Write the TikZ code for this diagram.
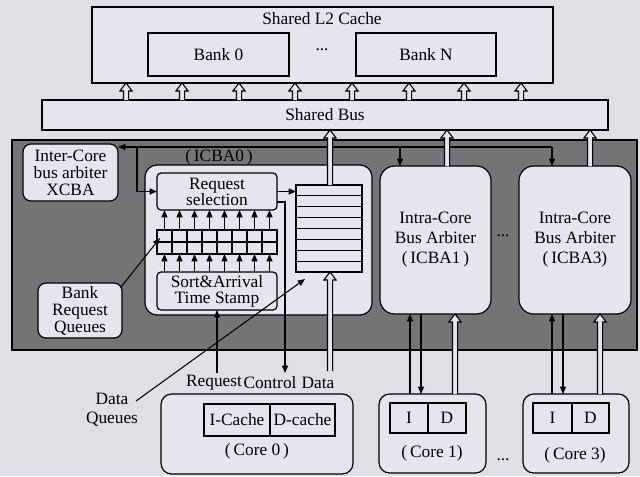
\documentclass[tikz,border=0pt]{standalone}
\usepackage{fontspec}
\setmainfont{Liberation Serif}
\usetikzlibrary{arrows.meta,calc}
\definecolor{bg}{HTML}{DFDFE6}
\definecolor{panel}{HTML}{747476}
\definecolor{boxf}{HTML}{E5E5ED}
\newcommand\hollowup[3]{\draw[harrow] let \p0=(#1,0), \p1=#2, \p2=#3 in
 (\x0-1.9pt,\y1) -- (\x0-1.9pt,\y2-6pt) -- (\x0-4.6pt,\y2-6pt) -- (\x0,\y2) -- (\x0+4.6pt,\y2-6pt) -- (\x0+1.9pt,\y2-6pt) -- (\x0+1.9pt,\y1);}
\begin{document}
\begin{tikzpicture}[x=0.75pt,y=-0.75pt,
  font=\fontsize{13}{13}\selectfont,
  bx/.style 2 args={minimum width=#1*0.75pt, minimum height=#2*0.75pt},
  box/.style={draw, fill=boxf, line width=0.9pt, inner sep=0pt, outer sep=0pt, align=center},
  rbox/.style={box, rounded corners=6pt},
  ln/.style={line width=0.8pt},
  tip/.style={ln, -{Triangle[length=5.5pt,width=4.5pt]}},
  harrow/.style={draw, fill=boxf, line width=0.8pt},
  txt/.style={inner sep=0pt, align=center},
]
\path[use as bounding box, fill=bg] (0,0) rectangle (640,476);

% L2 cache
\node[box, bx={461}{76}] (l2) at (322.5,45) {};
\node[txt] (l2t) at (322,19) {Shared L2 Cache};
\node[box, bx={141}{43}] (bank0) at (218.5,54.5) {Bank 0};
\node[txt] (dots1) at (322,50) {...};
\node[box, bx={140}{43}] (bankN) at (426,54.5) {Bank N};

% shared bus
\node[box, bx={566}{30}] (bus) at (325,115) {Shared Bus};
\foreach \xx in {126,182,239,295,352,409,464,521}
  \hollowup{\xx}{(bus.north)}{(l2.south)};

% dark panel
\node[draw, fill=panel, line width=0.9pt, inner sep=0pt, bx={625}{210}] (panel) at (324.5,245) {};

\node[rbox, bx={95}{57}, font=\fontsize{13}{12.8}\selectfont] (xcba) at (70.5,172.5) {Inter-Core\\bus arbiter\\XCBA};
\node[box, rounded corners=9pt, bx={227}{150}] (icba0) at (258.5,240) {};
\node[txt] (icba0l) at (219,157) {(\,ICBA0\,)};
\node[box, rounded corners=3pt, bx={120}{37}, font=\fontsize{13}{12}\selectfont] (reqsel) at (217,191.5) {Request\\selection};
\node[box, bx={120}{24}] (grid) at (217,242) {};
\node[box, rounded corners=3pt, bx={120}{38}, font=\fontsize{13}{12}\selectfont] (sort) at (217,291) {Sort\&Arrival\\Time Stamp};
\node[box, bx={66}{87}] (stack) at (329,228.5) {};
\node[box, rounded corners=11pt, bx={111}{148}, font=\fontsize{13}{15}\selectfont] (icba1) at (435.5,240) {Intra-Core\\Bus Arbiter\\(\,ICBA1\,)};
\node[txt] (dots2) at (503,236) {...};
\node[box, rounded corners=11pt, bx={112}{148}, font=\fontsize{13}{15}\selectfont] (icba3) at (575,240) {Intra-Core\\Bus Arbiter\\(\,ICBA3)};
\node[rbox, bx={84}{55}, font=\fontsize{13}{12.8}\selectfont] (brq) at (80,310.5) {Bank\\Request\\Queues};

% grid lines
\foreach \i in {1,...,7}
  \draw[ln] ($(grid.north west)+(15*\i,0)$) -- ($(grid.south west)+(15*\i,0)$);
\draw[line width=1.5pt] ($(grid.north west)+(15,0)$) -- ($(grid.south west)+(15,0)$);
\draw[ln] (grid.west) -- (grid.east);
\foreach \i in {0,...,7}{
  \draw[tip] ($(grid.north west)+(7.5+15*\i,0)$) -- ($(reqsel.south west)+(7.5+15*\i,0)$);
  \draw[tip] ($(sort.north west)+(7.5+15*\i,0)$) -- ($(grid.south west)+(7.5+15*\i,0)$);
}
% stack lines
\foreach \i in {1,...,7}
  \draw[ln] ($(stack.north west)+(0,87/8*\i)$) -- ($(stack.north east)+(0,87/8*\i)$);

% top control line
\coordinate (t0) at (137,147);
\coordinate (t1) at (400,147);
\coordinate (t3) at (552,147);
\draw[tip] (t3) -- (xcba.east |- t3);
\draw[tip] (t3) -- (t3 |- icba3.north);
\draw[tip] (t1) -- (t1 |- icba1.north);
\draw[tip] (t0) |- (reqsel.west);

% inside ICBA0
\draw[tip] (reqsel.east) -- (stack.west |- reqsel.east);
\coordinate (c1) at (285,202);
\coordinate (ctrlend) at (285,373);
\draw[tip] (reqsel.east |- c1) -| (ctrlend);
\coordinate (rq) at (217,373);
\draw[tip] (rq) -- (rq |- sort.south);
\coordinate (dataend) at (330,371);
\hollowup{330}{(dataend)}{(stack.south)};
\coordinate (brqs) at (121,287);
\coordinate (brqe) at (160,238);
\draw[tip] (brqs) -- (brqe);

% up to bus
\hollowup{330}{(stack.north)}{(bus.south)};
\hollowup{447}{(icba1.north)}{(bus.south)};
\hollowup{590}{(icba3.north)}{(bus.south)};

% labels
\node[txt] (lreq) at (214,383) {Request};
\node[txt] (lctl) at (270,383) {Control};
\node[txt] (ldat) at (318,383) {Data};
\node[txt, font=\fontsize{13}{14}\selectfont] (dq) at (112,410) {Data\\Queues};
\coordinate (dqs) at (136,401);
\coordinate (dqe) at (305,279);
\draw[tip] (dqs) -- (dqe);

% cores
\node[box, rounded corners=8pt, bx={192}{80}] (core0) at (257,434) {};
\node[box, bx={66}{32}] (ic0) at (237,420) {I-Cache};
\node[box, bx={65}{32}] (dc0) at (302.5,420) {D-cache};
\node[txt] (core0l) at (257,451) {(\,Core 0\,)};

\node[box, rounded corners=8pt, bx={107}{79}] (core1) at (432.5,433.5) {};
\node[box, bx={38}{30}] (i1) at (409,418) {I};
\node[box, bx={38}{30}] (d1) at (447,418) {D};
\node[txt] (core1l) at (432,453) {(\,Core 1)};

\node[txt] (dots3) at (503,460) {...};

\node[box, rounded corners=8pt, bx={106}{79}] (core3) at (576,433.5) {};
\node[box, bx={39}{30}] (i3) at (552.5,418) {I};
\node[box, bx={37}{30}] (d3) at (590.5,418) {D};
\node[txt] (core3l) at (575,455) {(\,Core 3)};

% core-ICBA links
\coordinate (u1) at (410,0); \coordinate (w1) at (421,0);
\coordinate (u3) at (552,0); \coordinate (w3) at (563,0);
\draw[tip] (u1 |- core1.north) -- (u1 |- icba1.south);
\draw[tip] (w1 |- icba1.south) -- (w1 |- core1.north);
\hollowup{455}{(core1.north)}{(icba1.south)};
\draw[tip] (u3 |- core3.north) -- (u3 |- icba3.south);
\draw[tip] (w3 |- icba3.south) -- (w3 |- core3.north);
\hollowup{600}{(core3.north)}{(icba3.south)};
\end{tikzpicture}
\end{document}
